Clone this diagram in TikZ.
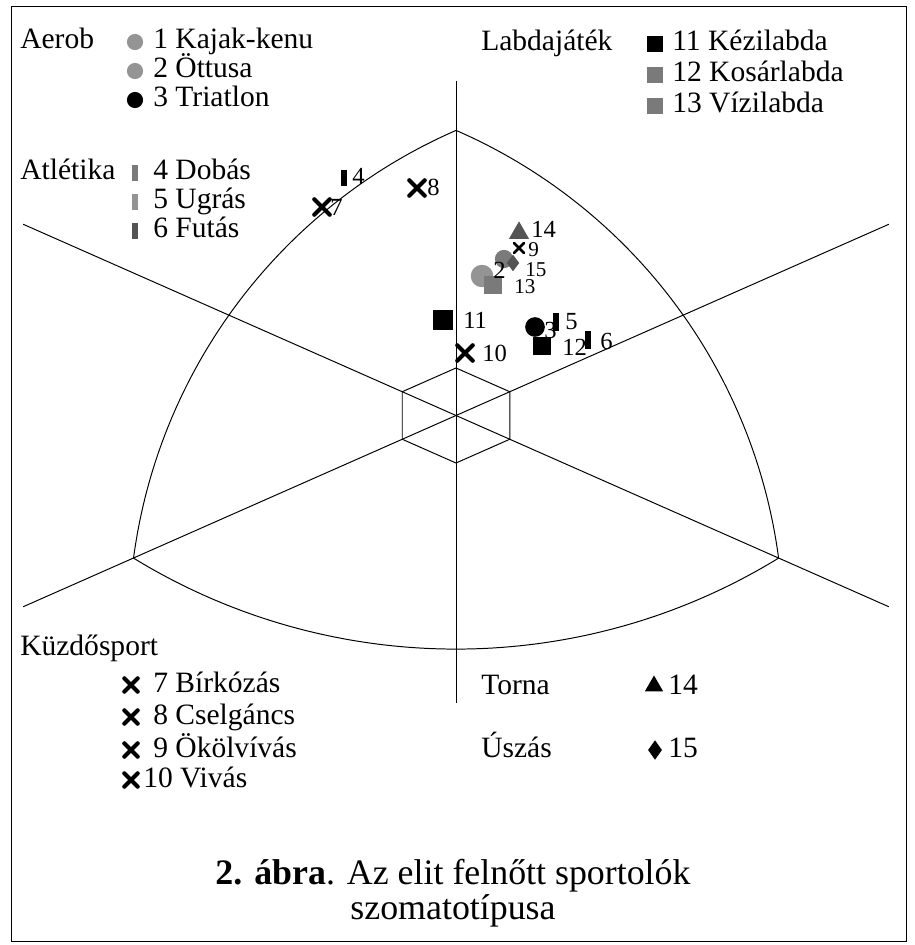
\documentclass[tikz,border=0pt]{standalone}
\usepackage{fontspec}
\setmainfont{Liberation Serif}
\usetikzlibrary{shapes.geometric,shapes.misc}
\definecolor{lgray}{gray}{0.58}
\definecolor{mgray}{gray}{0.48}
\definecolor{dgray}{gray}{0.33}
\newcommand\legfont{\fontsize{21}{25}\selectfont}
\newcommand\tagfont{\fontsize{17.5}{20}\selectfont}
\newcommand\capfont{\fontsize{25.5}{25}\selectfont}
\tikzset{
  txt/.style={font=\legfont,anchor=base west,inner sep=0pt},
  tag/.style={font=\tagfont,anchor=base west,inner sep=0pt},
  axis/.style={line width=0.7pt},
  dot/.style={circle,fill=#1,inner sep=0pt,minimum size=11.5pt},
  dot/.default=black,
  sq/.style={rectangle,fill=#1,inner sep=0pt,minimum size=11pt},
  sq/.default=black,
  bar/.style={rectangle,fill=#1,inner sep=0pt,minimum width=4.5pt,minimum height=11pt},
  bar/.default=black,
  tri/.style={regular polygon,regular polygon sides=3,fill=#1,inner sep=0pt,minimum size=15pt},
  tri/.default=black,
  dia/.style={diamond,fill=#1,inner sep=0pt,minimum width=10pt,minimum height=14pt},
  dia/.default=black,
  xmark/.style={cross out,draw=#1,line width=3pt,line cap=round,inner sep=0pt,minimum size=6.5pt},
  xmark/.default=black,
}
\begin{document}
\begin{tikzpicture}[x=0.025cm,y=-0.025cm]
\useasboundingbox (0,0) rectangle (914,945);
\draw[line width=0.6pt] (11,6) rectangle (906,941);

% somatochart grid (x = endo/ecto difference, y = 2 meso - endo - ecto)
\begin{scope}[shift={(456,415.5)},x=1.34375cm,y=0.59375cm,axis]
  \coordinate (O) at (0,0);
  \coordinate (T) at (0,12);
  \coordinate (L) at (-6,-6);
  \coordinate (R) at (6,-6);
  \draw (0,14.1) -- (0,-12.1);
  \draw (-8.05,8.05) -- (8.05,-8.05);
  \draw (-8.05,-8.05) -- (8.05,8.05);
  \draw (0,2) -- (1,1) -- (1,-1) -- (0,-2) -- (-1,-1) -- (-1,1) -- cycle;
\end{scope}
\draw[axis] (T) arc[start angle=113.54,end angle=172.42,radius=13.6175cm];
\draw[axis] (R) arc[start angle=7.58,end angle=66.46,radius=13.6175cm];
\draw[axis] (L) arc[start angle=238.48,end angle=301.52,radius=15.425cm];

% legend, top left
\node[txt] (aerob) at (20,49) {Aerob};
\foreach \y/\c/\t [count=\i] in {49/lgray/1 Kajak-kenu,78/lgray/2 Öttusa,107/black/3 Triatlon}{
  \node[dot=\c] (ka\i) at (135,\y-7) {};
  \node[txt] (ta\i) at (153,\y) {\t};
}
\node[txt] (atl) at (20,180) {Atlétika};
\foreach \y/\c/\t [count=\i] in {180/mgray/4 Dobás,209/lgray/5 Ugrás,238/dgray/6 Futás}{
  \node[bar=\c] (kb\i) at (135,\y-7) {};
  \node[txt] (tb\i) at (153,\y) {\t};
}
% legend, top right
\node[txt] (labda) at (481,51) {Labdajáték};
\foreach \y/\c/\t [count=\i] in {51/black/11 Kézilabda,82/mgray/12 Kosárlabda,113/mgray/13 Vízilabda}{
  \node[sq=\c] (kc\i) at (655,\y-7) {};
  \node[txt] (tc\i) at (672,\y) {\t};
}
% legend, bottom
\node[txt] (kuzd) at (20,655) {Küzdősport};
\foreach \y/\t [count=\i] in {692/7 Bírkózás,724/8 Cselgáncs,757/9 Ökölvívás}{
  \node[xmark] (kd\i) at (131,\y-7) {};
  \node[txt] (td\i) at (153,\y) {\t};
}
\node[xmark] (kd4) at (131,780) {};
\node[txt] (td4) at (143,787) {10 Vivás};
\node[txt] (torna) at (481,694) {Torna};
\node[tri] (ke1) at (654,686) {};
\node[txt] (te1) at (668,694) {14};
\node[txt] (uszas) at (481,757) {Úszás};
\node[dia] (ke2) at (655,750) {};
\node[txt] (te2) at (668,757) {15};

% plotted points
\node[bar,minimum width=3.6pt,minimum height=12pt] (p4) at (344,178) {};
\node[xmark,minimum size=8pt] (p7) at (322,207) {};
\node[xmark,minimum size=8pt] (p8) at (417,188) {};
\node[tri=dgray,minimum size=16.5pt] (p14) at (519,233) {};
\node[xmark,line width=2pt,minimum size=5pt] (p9) at (519,248) {};
\node[dot=lgray,minimum size=16pt] (p1) at (482,276) {};
\node[dot=mgray,minimum size=13pt] (p2) at (504,259) {};
\node[dia=dgray,minimum width=9pt,minimum height=12pt] (p15) at (513,263) {};
\node[sq=mgray,minimum size=13pt] (p13) at (493,285) {};
\node[sq,minimum size=14pt] (p11) at (443,320) {};
\node[xmark,minimum size=8pt] (p10) at (465,353) {};
\node[dot,minimum size=14pt] (p3) at (535,327) {};
\node[bar,minimum width=4pt,minimum height=13pt] (p5) at (556,322) {};
\node[sq,minimum size=13pt] (p12) at (542,346) {};
\node[bar,minimum width=4pt,minimum height=13pt] (p6) at (588,340) {};
\foreach \x/\y/\t in {352/185/4,330/216/7,427/196/8,531/237/14,493/278/2,
  463/328/11,482/361/10,544/338/3,565/329/5,562/355/12,600/349/6}{
  \node[tag] (n\t) at (\x,\y) {\t};
}
% crowded labels near the 2-1-13 group
\foreach \x/\y/\t in {528/257/9,525/276/15,514/293/13}{
  \node[tag,font=\fontsize{15}{18}\selectfont] (n\t) at (\x,\y) {\t};
}

% caption
\node[font=\capfont,align=center] (cap) at (453,893) {\textbf{2. ábra}. Az elit felnőtt sportolók\\szomatotípusa};
\end{tikzpicture}
\end{document}
